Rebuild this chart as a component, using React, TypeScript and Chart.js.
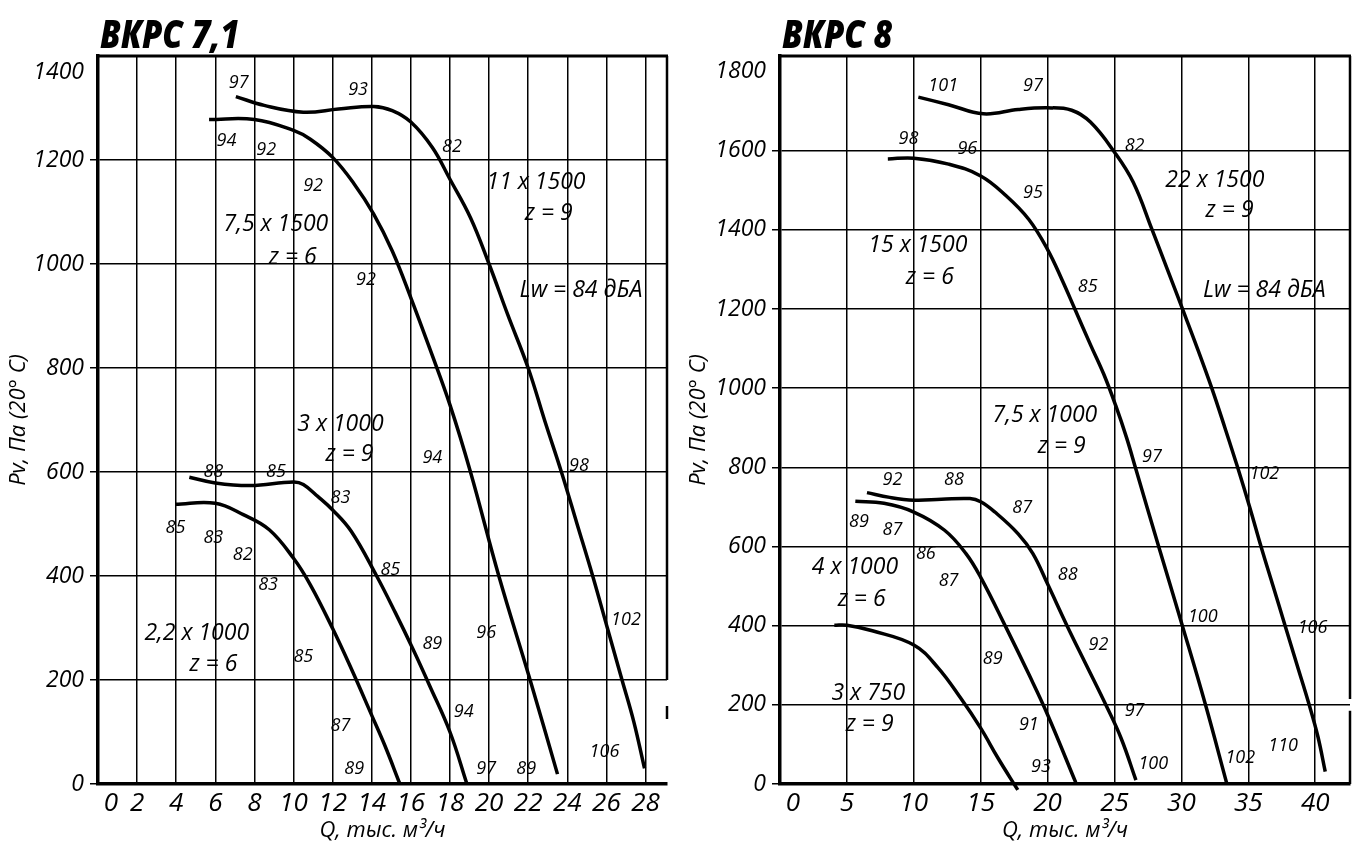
import React, { useEffect, useRef } from 'react';
import { Chart, registerables } from 'chart.js';
Chart.register(...registerables);

const FONT = '"Open Sans", "Noto Sans", sans-serif';

// ---------- ВКРС 7,1 ----------
const titleA = 'ВКРС 7,1';
const xTicksA = [0, 2, 4, 6, 8, 10, 12, 14, 16, 18, 20, 22, 24, 26, 28];
const yTicksA = [0, 200, 400, 600, 800, 1000, 1200, 1400];

const qA_11x1500 = [7.05, 8.5, 10.5, 12.3, 14.1, 15.05, 16.0, 17.1, 18.0, 19.05, 20.0, 20.95, 22.0, 22.86, 23.7, 24.5, 25.3, 26.05, 26.8, 27.4, 27.95];
const pA_11x1500 = [1322, 1305, 1292, 1298, 1303, 1295, 1273, 1224, 1163, 1089, 1000, 903, 800, 697, 600, 500, 400, 300, 200, 120, 30];

const qA_75x1500 = [5.68, 8.0, 10.0, 10.86, 12.0, 13.1, 14.1, 15.05, 16.0, 16.95, 18.0, 19.05, 20.5, 22.1, 23.5];
const pA_75x1500 = [1278, 1278, 1257, 1240, 1205, 1154, 1096, 1025, 935, 839, 729, 600, 400, 200, 19];

const qA_3x1000 = [4.67, 6.0, 7.8, 10.0, 10.5, 11.24, 12.0, 12.95, 14.25, 15.2, 16.1, 16.95, 18.0, 18.86];
const pA_3x1000 = [590, 579, 574, 581, 576, 553, 527, 486, 400, 330, 260, 190, 100, 1];

const qA_22x1000 = [3.94, 6.0, 7.43, 8.76, 10.0, 10.86, 12.0, 12.95, 14.0, 14.67, 15.43];
const pA_22x1000 = [538, 540, 518, 489, 434, 383, 299, 222, 132, 74, 1];

const numsA: [number, number, string][] = [
  [7.2, 1348, '97'], [13.3, 1334, '93'], [6.57, 1237, '94'], [8.6, 1219, '92'], [18.1, 1226, '82'],
  [11.0, 1150, '92'], [13.7, 970, '92'], [17.1, 627, '94'], [24.6, 611, '98'], [5.9, 601, '88'],
  [9.1, 601, '85'], [12.4, 551, '83'], [3.96, 492, '85'], [5.9, 474, '83'], [7.4, 441, '82'],
  [14.95, 412, '85'], [8.7, 383, '83'], [27.0, 315, '102'], [19.85, 291, '96'], [17.1, 270, '89'],
  [10.5, 244, '85'], [18.7, 138, '94'], [12.4, 111, '87'], [25.9, 62, '106'], [13.1, 30, '89'],
  [19.85, 30, '97'], [21.9, 30, '89'],
];
const labelsA: [number, number, string][] = [
  [22.4, 1157, '11 x 1500'], [23.05, 1097, 'z = 9'], [9.1, 1077, '7,5 x 1500'], [9.96, 1012, 'z = 6'],
  [24.7, 949, 'Lw = 84 дБА'], [12.4, 692, '3 x 1000'], [12.86, 633, 'z = 9'],
  [5.05, 289, '2,2 x 1000'], [5.9, 230, 'z = 6'],
];

// ---------- ВКРС 8 ----------
const titleB = 'ВКРС 8';
const xTicksB = [0, 5, 10, 15, 20, 25, 30, 35, 40];
const yTicksB = [0, 200, 400, 600, 800, 1000, 1200, 1400, 1600, 1800];

const qB_22x1500 = [10.34, 12.6, 15.2, 17.8, 20.0, 21.8, 23.2, 25.0, 26.4, 27.8, 28.95, 30.08, 31.2, 32.27, 33.25, 34.2, 35.1, 35.95, 36.85, 37.75, 38.65, 39.55, 40.2, 40.75];
const pB_22x1500 = [1735, 1716, 1693, 1704, 1708, 1702, 1672, 1596, 1520, 1401, 1300, 1200, 1100, 1000, 900, 800, 700, 600, 500, 400, 300, 200, 120, 31];

const qB_15x1500 = [8.06, 10.0, 12.6, 15.0, 16.9, 18.6, 20.0, 21.1, 22.06, 23.2, 24.2, 25.1, 25.9, 26.6, 28.3, 30.06, 31.8, 33.4];
const pB_15x1500 = [1579, 1581, 1566, 1536, 1486, 1426, 1350, 1272, 1198, 1110, 1035, 955, 875, 795, 600, 401, 200, 0];

const qB_75x1000 = [6.5, 8.2, 10.0, 12.06, 14.2, 15.0, 16.06, 17.8, 18.9, 20.0, 21.45, 22.9, 24.35, 25.5, 26.6];
const pB_75x1000 = [736, 724, 717, 719, 721, 713, 687, 632, 582, 505, 400, 300, 200, 115, 10];

const qB_4x1000 = [5.63, 7.77, 10.0, 12.3, 13.9, 15.0, 16.9, 18.6, 20.0, 22.1];
const pB_4x1000 = [714, 709, 687, 641, 582, 522, 395, 277, 175, 4];

const qB_3x750 = [4.06, 5.0, 6.9, 10.0, 11.8, 13.5, 15.0, 16.3, 17.77];
const pB_3x750 = [401, 401, 387, 351, 294, 217, 141, 65, -15];

const numsB: [number, number, string][] = [
  [12.2, 1763, '101'], [18.9, 1763, '97'], [9.6, 1630, '98'], [14.0, 1604, '96'], [26.5, 1613, '82'],
  [18.9, 1492, '95'], [23.0, 1257, '85'], [27.8, 827, '97'], [36.2, 783, '102'], [8.4, 768, '92'],
  [13.0, 768, '88'], [18.1, 698, '87'], [5.9, 662, '89'], [8.4, 641, '87'], [10.9, 582, '86'],
  [12.6, 512, '87'], [21.5, 529, '88'], [31.6, 422, '100'], [39.8, 395, '106'], [23.8, 351, '92'],
  [15.9, 315, '89'], [26.5, 185, '97'], [18.6, 150, '91'], [37.6, 97, '110'], [34.4, 65, '102'],
  [27.9, 50, '100'], [19.5, 42, '93'],
];
const labelsB: [number, number, string][] = [
  [32.5, 1524, '22 x 1500'], [33.6, 1448, 'z = 9'], [10.3, 1360, '15 x 1500'], [11.2, 1280, 'z = 6'],
  [36.2, 1247, 'Lw = 84 дБА'], [19.8, 931, '7,5 x 1000'], [21.06, 852, 'z = 9'],
  [5.6, 548, '4 x 1000'], [6.1, 467, 'z = 6'], [6.6, 228, '3 x 750'], [6.7, 150, 'z = 9'],
];

const xTitle = 'Q, тыс. м³/ч';
const yTitle = 'Pv, Па (20° C)';

const toPts = (q: number[], p: number[]) => q.map((v, i) => ({ x: v, y: p[i] }));

const curve = (q: number[], p: number[]) => ({
  data: toPts(q, p),
  borderColor: '#000',
  borderWidth: 3.5,
  pointRadius: 0,
  fill: false,
  tension: 0.4,
  clip: false as any,
});

type Cfg = {
  title: string;
  xMax: number;
  yMax: number;
  xTicks: number[];
  yTicks: number[];
  hiddenY: number;
  loweredY: number | null;
  series: [number[], number[]][];
  nums: [number, number, string][];
  labels: [number, number, string][];
  yAxisWidth: number;
  padRight: number;
  rightBorder: [number, number][];
};

const TICK_Y_FONT = { family: FONT, size: 23, style: 'italic' as const };

function makeChart(canvas: HTMLCanvasElement, c: Cfg) {
  const overlay = {
    id: 'overlay',
    afterDatasetsDraw(chart: any) {
      const { ctx, chartArea: a, scales } = chart;
      const x = scales.x, y = scales.y;
      ctx.save();
      ctx.strokeStyle = '#000';
      ctx.lineCap = 'butt';
      ctx.lineWidth = 3;
      ctx.beginPath();
      ctx.moveTo(a.left - 1.5, a.top);
      ctx.lineTo(a.right + 1, a.top);
      ctx.stroke();
      ctx.lineWidth = 2.5;
      c.rightBorder.forEach(([p1, p2]) => {
        ctx.beginPath();
        ctx.moveTo(a.right, Math.min(y.getPixelForValue(p1), a.bottom));
        ctx.lineTo(a.right, Math.max(y.getPixelForValue(p2), a.top));
        ctx.stroke();
      });
      ctx.fillStyle = '#000';
      // top tick label drawn slightly below its gridline, as in the source drawing
      if (c.loweredY !== null) {
        ctx.font = `italic ${TICK_Y_FONT.size}px ${FONT}`;
        ctx.textAlign = 'right';
        ctx.textBaseline = 'middle';
        ctx.fillText(String(c.loweredY), y.left + y.width - 14, y.getPixelForValue(c.loweredY) + 16);
      }
      ctx.textAlign = 'center';
      ctx.textBaseline = 'middle';
      ctx.font = `italic 18px ${FONT}`;
      c.nums.forEach(([q, p, t]) => ctx.fillText(t, x.getPixelForValue(q), y.getPixelForValue(p)));
      ctx.font = `italic 23px ${FONT}`;
      c.labels.forEach(([q, p, t]) => ctx.fillText(t, x.getPixelForValue(q), y.getPixelForValue(p)));
      ctx.font = `italic 800 39px ${FONT}`;
      ctx.textAlign = 'left';
      ctx.textBaseline = 'alphabetic';
      ctx.translate(a.left + 2, a.top - 8);
      ctx.scale(0.84, 1);
      ctx.fillText(c.title, 0, 0);
      ctx.restore();
    },
  };

  const gridColor = (ctx: any) => (ctx.tick && ctx.tick.value === c.hiddenY ? 'rgba(0,0,0,0)' : '#000');

  return new Chart(canvas, {
    type: 'line',
    data: { datasets: c.series.map(([q, p]) => curve(q, p)) as any },
    plugins: [overlay],
    options: {
      animation: false,
      responsive: false,
      maintainAspectRatio: false,
      layout: { padding: { top: 56, right: c.padRight, left: 0, bottom: 0 } },
      plugins: { legend: { display: false }, tooltip: { enabled: false }, title: { display: false } },
      scales: {
        x: {
          type: 'linear',
          min: 0,
          max: c.xMax,
          afterBuildTicks: (s: any) => { s.ticks = c.xTicks.map((v) => ({ value: v })); },
          afterFit: (s: any) => { s.height = 61; },
          grid: { color: '#000', lineWidth: 1.5, drawTicks: false },
          border: { display: true, color: '#000', width: 3.5 },
          ticks: {
            color: '#000',
            font: { family: FONT, size: 26, style: 'italic' },
            padding: 4,
            maxRotation: 0,
            autoSkip: false,
            callback: (v: any) => (v === 0 ? '\u20030' : String(v)),
          },
          title: { display: true, text: xTitle, color: '#000', font: { family: FONT, size: 22, style: 'italic' }, padding: { top: 0, bottom: 1 } },
        },
        y: {
          type: 'linear',
          min: 0,
          max: c.yMax,
          afterBuildTicks: (s: any) => { s.ticks = c.yTicks.map((v) => ({ value: v })); },
          afterFit: (s: any) => { s.width = c.yAxisWidth; },
          grid: { color: gridColor as any, lineWidth: 1.5, drawTicks: true, tickLength: 8 },
          border: { display: true, color: '#000', width: 3.5 },
          ticks: {
            color: '#000',
            font: TICK_Y_FONT,
            padding: 6,
            autoSkip: false,
            callback: (v: any) => (v === c.loweredY ? '' : String(v)),
          },
          title: { display: true, text: yTitle, color: '#000', font: { family: FONT, size: 22, style: 'italic' }, padding: { top: 6, bottom: 0 } },
        },
      },
    } as any,
  });
}

function Panel({ cfg, left, width }: { cfg: Cfg; left: number; width: number }) {
  const ref = useRef<HTMLCanvasElement>(null);
  useEffect(() => {
    if (!ref.current) return;
    const ch = makeChart(ref.current, cfg);
    return () => ch.destroy();
  }, []);
  return (
    <canvas
      ref={ref}
      width={width}
      height={845}
      style={{ position: 'absolute', left, top: 0, width, height: 845, display: 'block' }}
    />
  );
}

const cfgA: Cfg = {
  title: titleA,
  xMax: 29.1,
  yMax: 1400,
  xTicks: xTicksA,
  yTicks: yTicksA,
  hiddenY: 1400,
  loweredY: 1400,
  series: [[qA_11x1500, pA_11x1500], [qA_75x1500, pA_75x1500], [qA_3x1000, pA_3x1000], [qA_22x1000, pA_22x1000]],
  nums: numsA,
  labels: labelsA,
  yAxisWidth: 98,
  padRight: 13,
  rightBorder: [[200, 1400], [150, 125]],
};

const cfgB: Cfg = {
  title: titleB,
  xMax: 42.6,
  yMax: 1839,
  xTicks: xTicksB,
  yTicks: yTicksB,
  hiddenY: 1800,
  loweredY: null,
  series: [[qB_22x1500, pB_22x1500], [qB_15x1500, pB_15x1500], [qB_75x1000, pB_75x1000], [qB_4x1000, pB_4x1000], [qB_3x750, pB_3x750]],
  nums: numsB,
  labels: labelsB,
  yAxisWidth: 100,
  padRight: 7,
  rightBorder: [[215, 1839], [0, 185]],
};

export default function App() {
  return (
    <div style={{ position: 'absolute', left: 0, top: 0, width: 1357, height: 845, background: '#fff', overflow: 'hidden' }}>
      <Panel cfg={cfgA} left={0} width={680} />
      <Panel cfg={cfgB} left={680} width={677} />
    </div>
  );
}
